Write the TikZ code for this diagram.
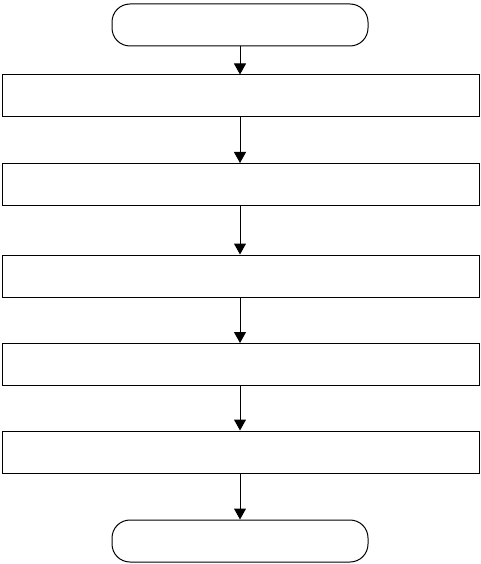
\documentclass[tikz,border=0pt]{standalone}
\usetikzlibrary{arrows.meta}
\begin{document}
\begin{tikzpicture}[x=1pt,y=-1pt,
  termbox/.style={draw,line width=1pt,rounded corners=18pt,minimum width=256pt,minimum height=42pt,inner sep=0pt},
  stepbox/.style={draw,line width=1pt,minimum width=477pt,minimum height=42pt,inner sep=0pt},
  flow/.style={line width=1pt,-{Triangle[width=12pt,length=11pt]}}]
\useasboundingbox (0,0) rectangle (481,564);
\node[termbox] (s) at (240,25) {};
\node[stepbox] (a) at (240.5,96) {};
\node[stepbox] (b) at (240.5,184.5) {};
\node[stepbox] (c) at (240.5,276) {};
\node[stepbox] (d) at (240.5,364.5) {};
\node[stepbox] (e) at (240.5,452) {};
\node[termbox] (t) at (240,541) {};
\draw[flow] (s.south -| 240,0) -- (a.north -| 240,0);
\draw[flow] (a.south -| 240,0) -- (b.north -| 240,0);
\draw[flow] (b.south -| 240,0) -- (c.north -| 240,0);
\draw[flow] (c.south -| 240,0) -- (d.north -| 240,0);
\draw[flow] (d.south -| 240,0) -- (e.north -| 240,0);
\draw[flow] (e.south -| 240,0) -- (t.north -| 240,0);
\end{tikzpicture}
\end{document}
